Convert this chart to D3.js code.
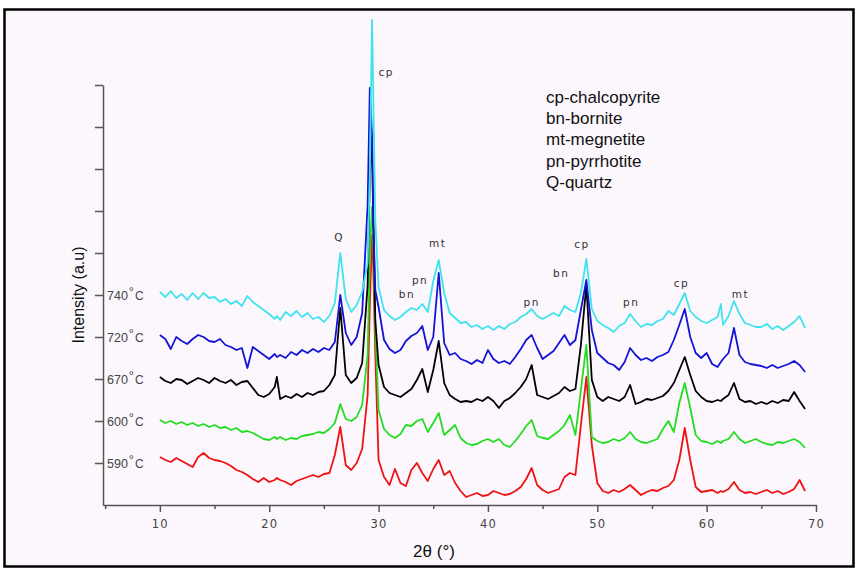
<!DOCTYPE html>
<html>
<head>
<meta charset="utf-8">
<script src="https://cdn.jsdelivr.net/npm/d3@7"></script>
<style>
  body { margin: 0; background: #ffffff; }
  svg { display: block; }
</style>
</head>
<body>
<div id="xrd"></div>
<script>

// XRD patterns of the roasted ore at five temperatures

// 2-theta sample positions (degrees)
const angles = [
  10, 10.5, 11, 11.5, 12, 12.5, 13, 13.5, 14, 14.5,
  15, 15.5, 16, 16.5, 17, 17.5, 18, 18.5, 19, 19.5,
  20, 20.5, 20.7, 21, 21.5, 22, 22.5, 23, 23.5, 24, 24.5,
  25, 25.5, 26, 26.5, 27, 27.5, 28, 28.5, 29, 29.2, 29.4, 29.5, 29.7,
  30, 30.5, 31, 31.5, 32, 32.5, 33, 33.5, 34, 34.5,
  35, 35.5, 36, 36.5, 37, 37.5, 38, 38.5, 39, 39.5,
  40, 40.5, 41, 41.5, 42, 42.5, 43, 43.5, 44, 44.5,
  45, 45.5, 46, 46.5, 47, 47.5, 48, 48.5, 49, 49.5,
  50, 50.5, 51, 51.5, 52, 52.5, 53, 53.5, 54, 54.5,
  55, 55.5, 56, 56.5, 57, 57.5, 58, 58.5, 59, 59.5,
  60, 60.5, 61, 61.3, 61.5, 62, 62.5, 63, 63.5, 64, 64.5,
  65, 65.5, 66, 66.5, 67, 67.5, 68, 68.5, 69
];

// stacked intensities (a.u.), one array per temperature
const i740 = [
  213, 208, 214, 207, 211, 205, 212, 206, 212, 207,
  208, 203, 206, 201, 204, 199, 209, 203, 199, 195,
  191, 186, 189, 185, 193, 189, 194, 188, 192, 186, 188,
  183, 189, 202, 252, 206, 193, 200, 213, 242, 330, 485, 420, 285,
  218, 195, 189, 185, 188, 193, 197, 195, 201, 193,
  224, 245, 212, 192, 187, 182, 183, 178, 180, 176,
  179, 175, 179, 176, 181, 183, 188, 191, 196, 189,
  186, 189, 192, 189, 199, 195, 193, 212, 246, 196,
  184, 180, 177, 173, 179, 182, 191, 184, 178, 181,
  180, 184, 186, 194, 190, 201, 212, 194, 188, 184,
  182, 185, 188, 201, 180, 189, 204, 191, 182, 180, 178,
  178, 181, 176, 179, 175, 179, 183, 189, 177
];

const i720 = [
  170, 166, 156, 168, 164, 161, 166, 170, 168, 164,
  163, 166, 160, 158, 155, 157, 137, 158, 154, 150,
  146, 151, 148, 150, 147, 153, 150, 155, 152, 156, 153,
  157, 155, 163, 210, 172, 160, 168, 192, 300, 417, 370, 290, 215,
  198, 165, 156, 152, 155, 164, 169, 172, 179, 155,
  168, 232, 162, 150, 152, 146, 144, 141, 145, 142,
  155, 146, 142, 144, 141, 148, 156, 165, 170, 157,
  146, 150, 154, 162, 170, 160, 165, 195, 225, 175,
  152, 147, 142, 140, 135, 143, 157, 150, 145, 147,
  144, 148, 150, 153, 165, 180, 196, 168, 152, 147,
  152, 141, 138, 143, 146, 152, 177, 150, 143, 141, 140,
  139, 137, 140, 137, 139, 141, 144, 140, 133
];

const i670 = [
  128, 124, 122, 126, 125, 121, 124, 127, 125, 122,
  127, 124, 122, 125, 120, 123, 124, 117, 110, 108,
  111, 118, 128, 106, 109, 107, 111, 108, 112, 110, 113,
  114, 120, 130, 197, 130, 122, 127, 142, 220, 330, 368, 300, 185,
  140, 118, 112, 110, 108, 112, 116, 125, 136, 113,
  135, 164, 122, 110, 106, 103, 104, 103, 106, 104,
  108, 104, 97, 104, 107, 112, 118, 126, 140, 110,
  108, 106, 109, 112, 118, 114, 116, 160, 220, 125,
  108, 104, 108, 106, 104, 108, 120, 101, 103, 106,
  105, 107, 109, 114, 122, 135, 148, 130, 114, 108,
  104, 103, 105, 104, 106, 110, 122, 106, 103, 104, 101,
  103, 101, 104, 102, 105, 104, 113, 104, 96
];

const i600 = [
  85, 82, 84, 81, 83, 80, 82, 79, 81, 78,
  80, 77, 78, 75, 77, 73, 74, 72, 69, 66,
  65, 68, 66, 68, 65, 67, 66, 69, 70, 71, 73,
  72, 76, 82, 101, 86, 84, 88, 100, 150, 250, 298, 275, 175,
  95, 76, 70, 67, 71, 80, 79, 84, 86, 73,
  82, 92, 70, 75, 80, 67, 62, 60, 61, 64,
  66, 63, 66, 60, 58, 64, 71, 79, 85, 69,
  67, 66, 70, 74, 80, 90, 70, 115, 160, 68,
  64, 62, 63, 66, 64, 67, 73, 66, 63, 62,
  64, 66, 76, 84, 73, 102, 122, 97, 70, 64,
  63, 61, 64, 62, 64, 66, 73, 66, 62, 64, 66,
  63, 61, 60, 63, 62, 64, 66, 63, 57
];

const i590 = [
  48, 45, 43, 47, 44, 41, 38, 48, 52, 47,
  45, 44, 42, 39, 35, 33, 30, 26, 23, 27,
  23, 25, 27, 25, 23, 20, 24, 26, 28, 30, 28,
  31, 32, 50, 78, 40, 35, 42, 56, 110, 200, 270, 245, 150,
  45, 28, 20, 36, 22, 19, 35, 42, 32, 24,
  36, 45, 30, 34, 22, 14, 8, 10, 12, 9,
  10, 14, 12, 10, 11, 14, 18, 26, 37, 20,
  15, 12, 14, 16, 28, 32, 30, 80, 128, 60,
  22, 14, 12, 15, 13, 16, 20, 15, 10, 13,
  15, 14, 17, 19, 25, 45, 77, 45, 18, 13,
  14, 15, 12, 14, 13, 16, 23, 15, 12, 13, 11,
  13, 15, 12, 14, 11, 13, 16, 25, 14
];

// temperature labels and the tick value each one sits on
const tempLabels = ["590", "600", "670", "720", "740"];
const tempLevels = [42, 84, 126, 168, 210];

// phase labels over the peaks: name, 2-theta, intensity
const peakNames  = ["cp", "Q", "mt", "pn", "bn", "pn", "bn", "cp", "pn", "cp", "mt"];
const peakAngles = [30.7, 26.4, 35.4, 33.8, 32.6, 44.0, 46.7, 48.6, 53.1, 57.7, 63.1];
const peakLevels = [433, 268, 262, 225, 211, 203, 232, 261, 203, 222, 211];

// legend key
const keyLines = ["cp-chalcopyrite", "bn-bornite", "mt-megnetite", "pn-pyrrhotite", "Q-quartz"];

// axis ticks
const xMajor = [10, 20, 30, 40, 50, 60, 70];
const xMinor = [5, 15, 25, 35, 45, 55, 65];
const yTicks = [42, 84, 126, 168, 210, 252, 294, 336, 378, 420];

const series = [
  {name: "590", values: i590, color: "#ee1212"},
  {name: "600", values: i600, color: "#22dd22"},
  {name: "670", values: i670, color: "#000000"},
  {name: "720", values: i720, color: "#1414d6"},
  {name: "740", values: i740, color: "#3fe3ee"}
];

const width = 857;
const height = 570;

const svg = d3.select("#xrd")
  .append("svg")
  .attr("width", width)
  .attr("height", height);

// frame and background
svg.append("rect")
  .attr("x", 4.5)
  .attr("y", 9.5)
  .attr("width", 849)
  .attr("height", 557)
  .attr("fill", "#fcf7fc")
  .attr("stroke", "#000")
  .attr("stroke-width", 2.5);

const xScale = d3.scaleLinear()
  .domain([4.8, 70])
  .range([103, 816]);

const yScale = d3.scaleLinear()
  .domain([0, 420])
  .range([505, 85]);

/*
  Axes
*/

const tickFont = "'DejaVu Sans', Verdana, sans-serif";

// x axis with labelled major ticks
const xAxis = svg.append("g")
  .attr("transform", `translate(0,${yScale(0)})`)
  .call(d3.axisBottom(xScale)
    .tickValues(xMajor)
    .tickSize(7)
    .tickSizeOuter(0)
    .tickPadding(8)
    .tickFormat(d3.format("d")));

// minor ticks, unlabelled
svg.append("g")
  .attr("transform", `translate(0,${yScale(0)})`)
  .call(d3.axisBottom(xScale)
    .tickValues(xMinor)
    .tickSize(4)
    .tickSizeOuter(0)
    .tickFormat(""))
  .select(".domain").remove();

// y axis, ticks only
svg.append("g")
  .attr("transform", `translate(${xScale(4.8)},0)`)
  .call(d3.axisLeft(yScale)
    .tickValues(yTicks)
    .tickSize(8)
    .tickSizeOuter(0)
    .tickFormat(""));

svg.selectAll(".domain, .tick line")
  .attr("stroke", "#555")
  .attr("stroke-width", 1.5);

xAxis.selectAll("text")
  .attr("font-family", tickFont)
  .attr("font-size", 11.5)
  .attr("letter-spacing", 1.2)
  .attr("fill", "#444");

// temperature labels next to the y axis
const tLab = svg.selectAll(".temp")
  .data(tempLabels)
  .enter()
  .append("text")
    .attr("class", "temp")
    .attr("x", xScale(4.8) + 4)
    .attr("y", (d, i) => yScale(tempLevels[i]) + 5)
    .attr("font-family", "'Liberation Sans', Arial, sans-serif")
    .attr("font-size", 12.5)
    .attr("fill", "#444");

tLab.append("tspan").text(d => d);
tLab.append("tspan").text("°").attr("dy", -4).attr("font-size", 13).attr("dx", 1);
tLab.append("tspan").text("C").attr("dy", 4).attr("font-size", 12).attr("dx", 1);

// axis titles
svg.append("text")
  .attr("transform", `translate(84,295) rotate(-90)`)
  .attr("text-anchor", "middle")
  .attr("font-family", "'Liberation Sans', Arial, sans-serif")
  .attr("font-size", 16)
  .attr("fill", "#111")
  .text("Intensity (a.u)");

svg.append("text")
  .attr("x", 434)
  .attr("y", 557)
  .attr("text-anchor", "middle")
  .attr("font-family", "'Liberation Sans', Arial, sans-serif")
  .attr("font-size", 17)
  .attr("fill", "#111")
  .text("2θ (°)");

/*
  Patterns
*/

const line = d3.line()
  .x((d, i) => xScale(angles[i]))
  .y(d => yScale(d));

svg.selectAll(".pattern")
  .data(series)
  .enter()
  .append("path")
    .attr("class", "pattern")
    .attr("d", d => line(d.values))
    .attr("fill", "none")
    .attr("stroke", d => d.color)
    .attr("stroke-width", 1.8)
    .attr("stroke-linejoin", "round");

/*
  Peak labels and key
*/

svg.selectAll(".peak")
  .data(peakNames)
  .enter()
  .append("text")
    .attr("class", "peak")
    .attr("x", (d, i) => xScale(peakAngles[i]))
    .attr("y", (d, i) => yScale(peakLevels[i]))
    .attr("dy", "0.35em")
    .attr("text-anchor", "middle")
    .attr("font-family", tickFont)
    .attr("font-size", 10.5)
    .attr("letter-spacing", 1.5)
    .attr("fill", "#333")
    .text(d => d);

svg.selectAll(".key")
  .data(keyLines)
  .enter()
  .append("text")
    .attr("class", "key")
    .attr("x", 546)
    .attr("y", (d, i) => 103 + i * 21.2)
    .attr("font-family", "'Liberation Sans', Arial, sans-serif")
    .attr("font-size", 17)
    .attr("fill", "#111")
    .text(d => d);

</script>
</body>
</html>
